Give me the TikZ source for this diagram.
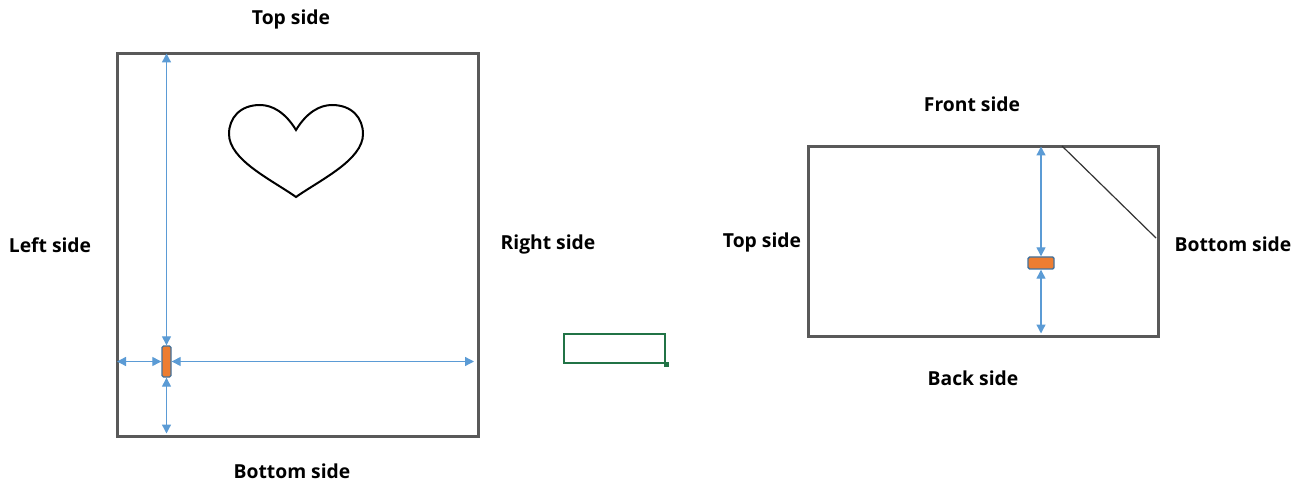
\documentclass[tikz,border=0pt]{standalone}
\usepackage{fontspec}
\setmainfont{Open Sans}
\usetikzlibrary{arrows.meta}
\definecolor{frame}{HTML}{595959}
\definecolor{arrowblue}{HTML}{5B9BD5}
\definecolor{orangefill}{HTML}{ED7D31}
\definecolor{orangeedge}{HTML}{41719C}
\definecolor{xlgreen}{HTML}{217346}
\tikzset{
  boxframe/.style={draw=frame, line width=3pt, inner sep=0pt, anchor=north west},
  lbl/.style={font=\fontsize{19.3}{21}\selectfont\bfseries, inner sep=0pt, text=black},
  dimarrow/.style={draw=arrowblue, line width=1.3pt, {Triangle[length=9pt,width=9pt]}-{Triangle[length=9pt,width=9pt]}},
  handle/.style={draw=orangeedge, fill=orangefill, line width=1.4pt, rounded corners=1.5pt, inner sep=0pt},
}
\begin{document}
\begin{tikzpicture}[x=1pt,y=-1pt]
\useasboundingbox (0,0) rectangle (1309,486);
% left square
\node[boxframe, minimum width=361pt, minimum height=383pt] (sq) at (115.5,52) {};
\node[handle, minimum width=9pt, minimum height=31pt] (h1) at (166.5,361.5) {};
\coordinate (sqtop) at (166.5,53.5);
\coordinate (sqbot) at (166.5,433.5);
\coordinate (sqleft) at (117,361.5);
\coordinate (sqright) at (474,361.5);
\draw[dimarrow] (sqtop) -- (h1.north);
\draw[dimarrow] (h1.south) -- (sqbot);
\draw[dimarrow] (sqleft) -- (h1.west);
\draw[dimarrow] (h1.east) -- (sqright);
% heart
\draw[line width=2pt, black] (296,130) .. controls (285,112) and (272,105) .. (260,105)
  .. controls (240,105) and (229,118) .. (229,134)
  .. controls (229,160) and (272,180) .. (296,197)
  .. controls (320,180) and (363,160) .. (363,134)
  .. controls (363,118) and (352,105) .. (332,105)
  .. controls (320,105) and (307,112) .. (296,130) -- cycle;
% labels left
\node[lbl] (tl) at (291,19) {Top side};
\node[lbl] (ll) at (50,245) {Left side};
\node[lbl] (rl) at (548,244) {Right side};
\node[lbl] (bl) at (292,471) {Bottom side};
% green cell
\node[draw=xlgreen, line width=2pt, inner sep=0pt, minimum width=101pt, minimum height=29pt, anchor=north west] (cell) at (563,333) {};
\node[fill=xlgreen, inner sep=0pt, minimum size=5pt] (cellh) at (cell.south east) {};
% right rectangle
\node[boxframe, minimum width=350pt, minimum height=190pt] (rr) at (806.5,145) {};
\node[handle, minimum width=26pt, minimum height=12pt] (h2) at (1041,263) {};
\coordinate (rrtop) at (1041,146.5);
\coordinate (rrbot) at (1041,333.5);
\draw[dimarrow] (rrtop) -- (h2.north);
\draw[dimarrow] (h2.south) -- (rrbot);
\coordinate (diagA) at (1062,146);
\coordinate (diagB) at (1156,238);
\draw[line width=1.2pt, black!80] (diagA) -- (diagB);
\node[lbl] (fl) at (972,104) {Front side};
\node[lbl] (tl2) at (762,242) {Top side};
\node[lbl] (bl2) at (1233,244) {Bottom side};
\node[lbl] (bk) at (973,378) {Back side};
\end{tikzpicture}
\end{document}
